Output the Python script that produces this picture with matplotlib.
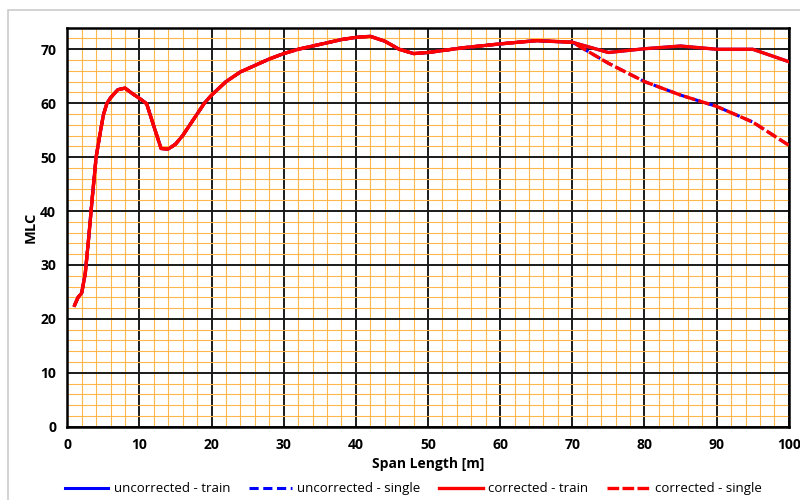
import matplotlib.pyplot as plt
from matplotlib.patches import Rectangle
from matplotlib.ticker import MultipleLocator

# span lengths [m] and MLC values
span = [1, 1.5, 2, 2.5, 3, 3.5, 4, 4.5, 5, 5.5, 6, 7, 8, 9, 10, 11, 12, 13, 14,
        15, 16, 17, 18, 19, 20, 22, 24, 26, 28, 30, 32, 34, 36, 38, 40, 42, 44,
        46, 48, 50, 55, 60, 65, 70, 75, 80, 85, 90, 95, 100]
mlc_train = [22.5, 24.0, 24.8, 28.5, 35.5, 43.0, 50.0, 54.0, 57.8, 60.0, 61.0,
             62.5, 62.8, 61.8, 60.9, 59.9, 55.7, 51.6, 51.5, 52.4, 54.0, 56.0,
             58.0, 60.0, 61.5, 64.0, 65.8, 67.0, 68.2, 69.2, 70.0, 70.6, 71.2,
             71.8, 72.2, 72.4, 71.5, 70.0, 69.2, 69.4, 70.3, 71.0, 71.6, 71.3,
             69.4, 70.1, 70.6, 70.0, 70.0, 67.7]
mlc_single = mlc_train[:44] + [67.4, 64.0, 61.5, 59.4, 56.5, 52.2]

plt.rcParams['font.family'] = ['Open Sans', 'DejaVu Sans']

fig = plt.figure(figsize=(8, 5), dpi=100)
ax = fig.add_axes([0.0841, 0.1466, 0.9019, 0.798])

# uncorrected curves sit underneath the corrected ones
ax.plot(span, mlc_train, color='blue', lw=2.2, label='uncorrected - train', zorder=3)
ax.plot(span, mlc_single, color='blue', lw=2.2, ls=(0, (3, 1.5)),
        label='uncorrected - single', zorder=3)
ax.plot(span, mlc_train, color='red', lw=2.4, label='corrected - train', zorder=4)
ax.plot(span, mlc_single, color='red', lw=2.4, ls=(0, (3, 1.5)),
        label='corrected - single', zorder=4)
ax.lines[3].set_dashes([3.5, 1])

ax.set_xlim(0, 100)
ax.set_ylim(0, 74)
ax.xaxis.set_major_locator(MultipleLocator(10))
ax.yaxis.set_major_locator(MultipleLocator(10))
ax.xaxis.set_minor_locator(MultipleLocator(2))
ax.yaxis.set_minor_locator(MultipleLocator(2))
ax.grid(which='minor', color='#FFB74D', lw=0.8, zorder=0)
ax.grid(which='major', color='#1a1a1a', lw=1.4, zorder=1)
ax.set_axisbelow(True)
ax.tick_params(which='both', length=0, labelsize=10, pad=8)
for lbl in ax.get_xticklabels() + ax.get_yticklabels():
    lbl.set_fontweight('bold')
for sp in ax.spines.values():
    sp.set_linewidth(1.8)

ax.set_xlabel('Span Length [m]', fontsize=10, fontweight='bold', labelpad=4)
ax.set_ylabel('MLC', fontsize=10.5, fontweight='bold', labelpad=2)

ax.legend(loc='upper center', bbox_to_anchor=(0.48, -0.11), ncol=4, frameon=False,
          fontsize=9.5, handlelength=3.3, columnspacing=1.4, handletextpad=0.4)

# light border around the picture
fig.patches.append(Rectangle((0.01, -0.01), 1.0, 0.99, transform=fig.transFigure,
                             fill=False, edgecolor='#cccccc', lw=1.2))

fig.savefig('out.png', dpi=100)
